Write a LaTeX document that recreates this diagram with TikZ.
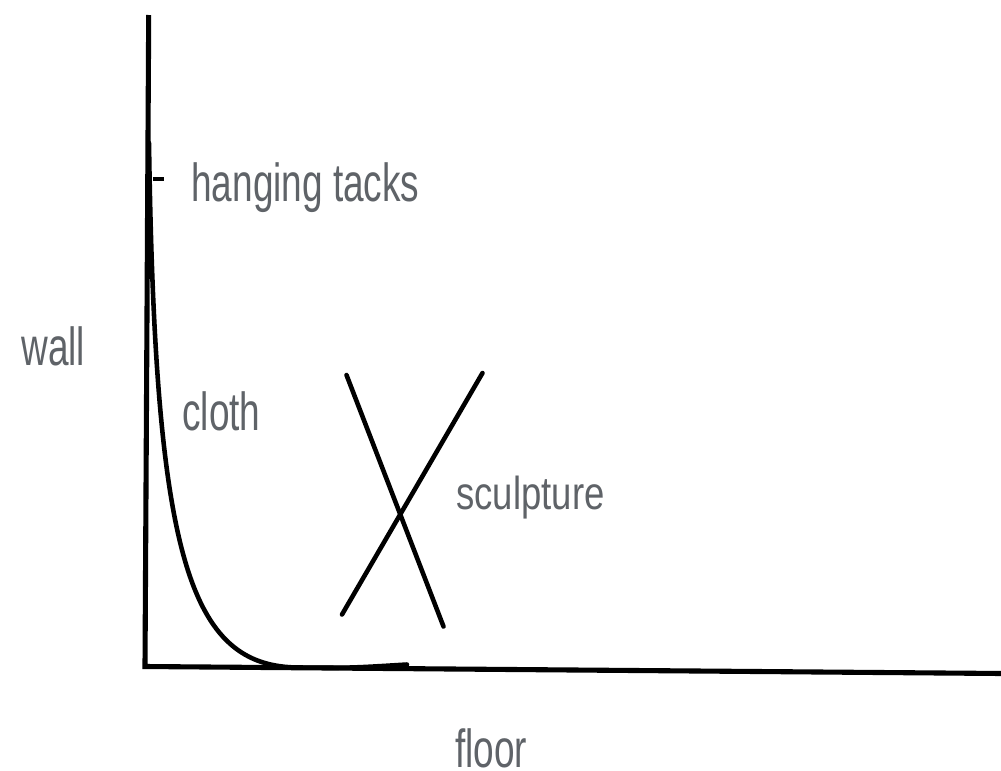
\documentclass[tikz,border=0pt]{standalone}
\usepackage{fontspec}
\newfontfamily\labfont[FakeStretch=0.69]{Liberation Sans}
\newfontfamily\labfontb[FakeStretch=0.79]{Liberation Sans}
\definecolor{labgray}{RGB}{95,99,104}
\begin{document}
\begin{tikzpicture}[x=0.02cm,y=-0.02cm,
  labtext/.style={anchor=base west,inner sep=0pt,text=labgray,font=\labfont\fontsize{30.5pt}{36pt}\selectfont},
  labsmall/.style={anchor=base west,inner sep=0pt,text=labgray,font=\labfontb\fontsize{26.3pt}{32pt}\selectfont},
  stroke/.style={line width=2.6pt,line cap=round,line join=round},
  wallline/.style={line width=2.9pt,line join=miter}]
\useasboundingbox (0,0) rectangle (1001,771);
% wall and floor
\draw[wallline] (148.7,15) -- (145,666.5) -- (1002,673.5);
% hanging tack
\draw[line width=2.3pt] (153,178.7) -- (164,178.7);
% cloth
\draw[stroke] (149,143) .. controls (155,555) and (188,668) .. (300,667.5)
  .. controls (350,668) .. (407,664.5);
% sculpture
\draw[stroke] (346.5,375) -- (443.5,626.5);
\draw[stroke] (482.5,373) -- (342,614.5);
% labels
\node[labtext] (tacks) at (191,201) {hanging tacks};
\node[labtext] (wall) at (21,365) {wall};
\node[labtext] (cloth) at (182,430) {cloth};
\node[labsmall] (sculpture) at (456,509) {sculpture};
\node[labtext] (floor) at (455,767) {floor};
\end{tikzpicture}
\end{document}
